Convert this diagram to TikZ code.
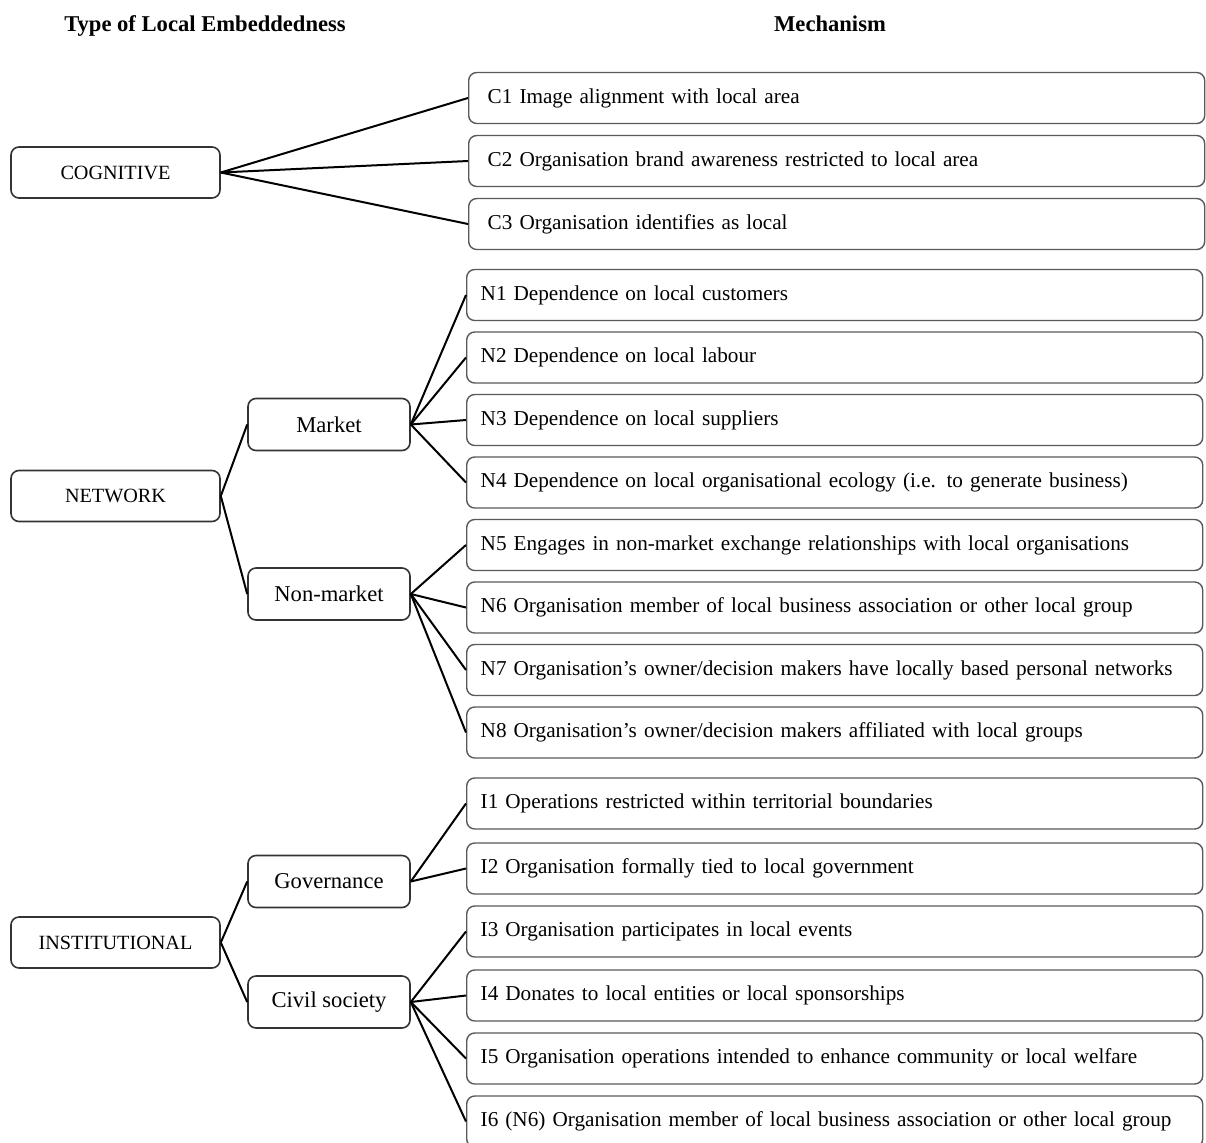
\documentclass[tikz,border=0pt]{standalone}
\usepackage{fontspec}
\setmainfont{Liberation Serif}
\begin{document}
\begin{tikzpicture}[x=0.5pt,y=-0.5pt,
  typebox/.style={draw=black!80,line width=0.8pt,rounded corners=4pt,
    minimum width=104.5pt,minimum height=25.5pt,inner sep=0pt,
    font=\fontsize{10.1}{12}\selectfont},
  subbox/.style={draw=black!80,line width=0.8pt,rounded corners=4pt,
    minimum width=81pt,minimum height=26pt,inner sep=0pt,
    font=\fontsize{11.3}{13}\selectfont},
  mechbox/.style={draw=black!65,line width=0.7pt,rounded corners=4pt,
    anchor=west,text width=354pt,inner xsep=7pt,inner ysep=0pt,
    minimum height=25.5pt,align=left,
    font=\fontsize{10.6}{13}\selectfont},
  mechboxc/.style={mechbox,text width=349pt,inner xsep=9.5pt},
  head/.style={anchor=base,font=\fontsize{11.3}{13}\selectfont\bfseries},
  link/.style={draw=black,line width=1pt}]
\clip (0,0) rectangle (1206,1142);

% column headings
\node[head] (h1) at (205,31) {Type of Local Embeddedness};
\node[head] (h2) at (830,31) {Mechanism};

% types of embeddedness
\node[typebox] (cog) at (115.5,172.5) {COGNITIVE};
\node[typebox] (net) at (115.5,496) {NETWORK};
\node[typebox] (ins) at (115.5,942.5) {INSTITUTIONAL};

% sub-types
\node[subbox] (mkt) at (329,424.5) {Market};
\node[subbox] (nmk) at (329,594) {Non-market};
\node[subbox] (gov) at (329,881.5) {Governance};
\node[subbox] (civ) at (329,1002) {Civil society};

% mechanisms
\node[mechboxc] (c1) at (468,98) {\mbox{C1 Image alignment with local area}};
\node[mechboxc] (c2) at (468,161) {\mbox{C2 Organisation brand awareness restricted to local area}};
\node[mechboxc] (c3) at (468,224) {\mbox{C3 Organisation identifies as local}};
\node[mechbox] (n1) at (466,295) {\mbox{N1 Dependence on local customers}};
\node[mechbox] (n2) at (466,357.5) {\mbox{N2 Dependence on local labour}};
\node[mechbox] (n3) at (466,420) {\mbox{N3 Dependence on local suppliers}};
\node[mechbox] (n4) at (466,482.5) {\mbox{N4 Dependence on local organisational ecology (i.e. to generate business)}};
\node[mechbox] (n5) at (466,545) {\mbox{N5 Engages in non-market exchange relationships with local organisations}};
\node[mechbox] (n6) at (466,607.5) {\mbox{N6 Organisation member of local business association or other local group}};
\node[mechbox] (n7) at (466,670) {\mbox{N7 Organisation’s owner/decision makers have locally based personal networks}};
\node[mechbox] (n8) at (466,732.5) {\mbox{N8 Organisation’s owner/decision makers affiliated with local groups}};
\node[mechbox] (i1) at (466,803.5) {\mbox{I1 Operations restricted within territorial boundaries}};
\node[mechbox] (i2) at (466,868.5) {\mbox{I2 Organisation formally tied to local government}};
\node[mechbox] (i3) at (466,931.5) {\mbox{I3 Organisation participates in local events}};
\node[mechbox] (i4) at (466,995.5) {\mbox{I4 Donates to local entities or local sponsorships}};
\node[mechbox] (i5) at (466,1058.5) {\mbox{I5 Organisation operations intended to enhance community or local welfare}};
\node[mechbox] (i6) at (466,1121.5) {\mbox{I6 (N6) Organisation member of local business association or other local group}};

% connectors
\foreach \m in {c1,c2,c3} \draw[link] (cog.east) -- (\m.west);
\draw[link] (net.east) -- (mkt.west);
\draw[link] (net.east) -- (nmk.west);
\foreach \m in {n1,n2,n3,n4} \draw[link] (mkt.east) -- (\m.west);
\foreach \m in {n5,n6,n7,n8} \draw[link] (nmk.east) -- (\m.west);
\draw[link] (ins.east) -- (gov.west);
\draw[link] (ins.east) -- (civ.west);
\foreach \m in {i1,i2} \draw[link] (gov.east) -- (\m.west);
\foreach \m in {i3,i4,i5,i6} \draw[link] (civ.east) -- (\m.west);
\end{tikzpicture}
\end{document}
